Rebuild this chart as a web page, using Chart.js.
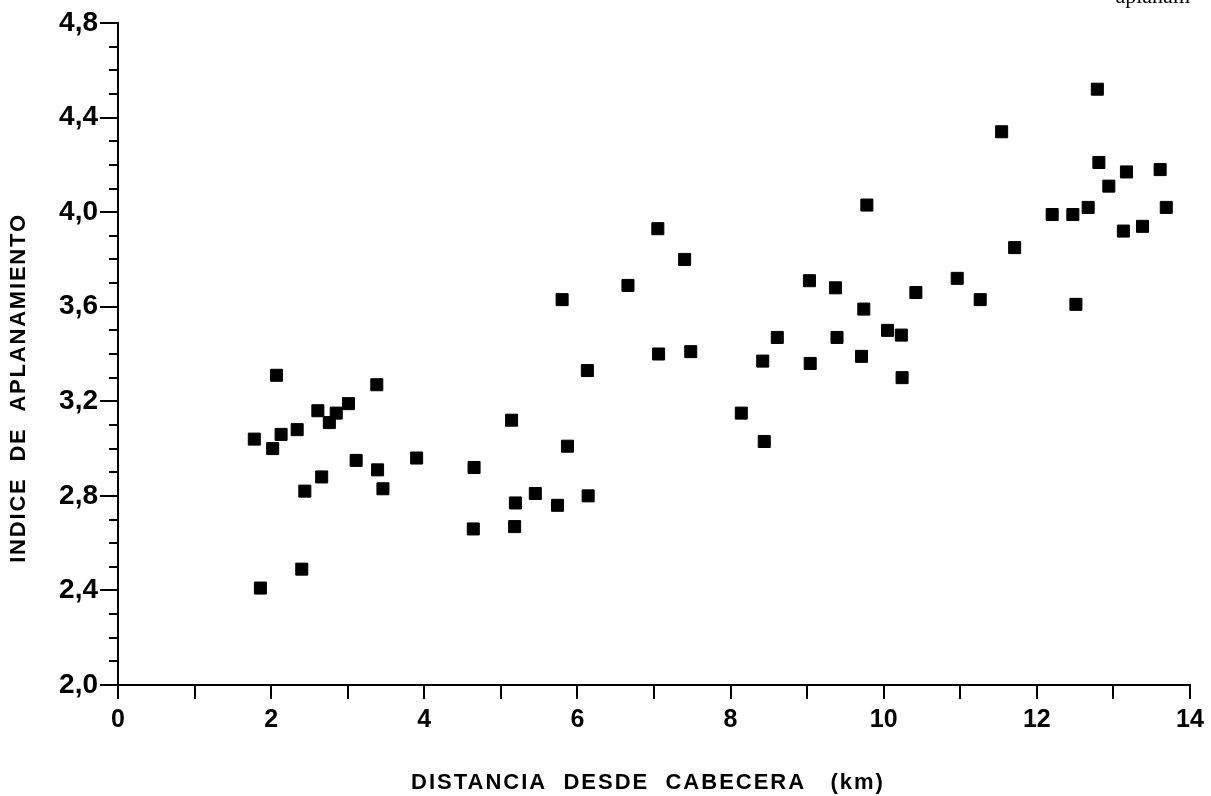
<!DOCTYPE html>
<html>
<head>
<meta charset="utf-8">
<script src="https://cdn.jsdelivr.net/npm/chart.js@4.4.1/dist/chart.umd.min.js"></script>
<style>
  html, body { margin: 0; padding: 0; background: #fff; }
  #wrap { width: 1211px; height: 796px; position: relative; }
</style>
</head>
<body id="body">
<div id="wrap"><canvas id="myChart"></canvas></div>
<script>
// distance from head (km) and flattening index
let distancia = [1.78, 1.86, 2.02, 2.07, 2.13, 2.34, 2.40, 2.44, 2.61, 2.66, 2.76, 2.85, 3.01, 3.11, 3.38, 3.39, 3.46, 3.90,
    4.64, 4.65, 5.14, 5.18, 5.19, 5.45, 5.74, 5.80, 5.87, 6.13, 6.14, 6.66, 7.05, 7.06, 7.40, 7.48,
    8.14, 8.42, 8.44, 8.61, 9.03, 9.04, 9.37, 9.39, 9.71, 9.74, 9.78, 10.05, 10.23, 10.24, 10.42,
    10.96, 11.26, 11.54, 11.71, 12.20, 12.47, 12.51, 12.67, 12.79, 12.81, 12.94, 13.13, 13.17, 13.38, 13.61, 13.69];
let indice = [3.04, 2.41, 3.00, 3.31, 3.06, 3.08, 2.49, 2.82, 3.16, 2.88, 3.11, 3.15, 3.19, 2.95, 3.27, 2.91, 2.83, 2.96,
    2.66, 2.92, 3.12, 2.67, 2.77, 2.81, 2.76, 3.63, 3.01, 3.33, 2.80, 3.69, 3.93, 3.40, 3.80, 3.41,
    3.15, 3.37, 3.03, 3.47, 3.71, 3.36, 3.68, 3.47, 3.39, 3.59, 4.03, 3.50, 3.48, 3.30, 3.66,
    3.72, 3.63, 4.34, 3.85, 3.99, 3.99, 3.61, 4.02, 4.52, 4.21, 4.11, 3.92, 4.17, 3.94, 4.18, 4.02];

let xRange = [0, 14];
let yRange = [2.0, 4.8];
let xLabelTicks = [0, 2, 4, 6, 8, 10, 12, 14];
let yLabelTicks = [2.0, 2.4, 2.8, 3.2, 3.6, 4.0, 4.4, 4.8];
let xTitle = 'DISTANCIA  DESDE  CABECERA   (km)';
let yTitle = 'INDICE  DE  APLANAMIENTO';

let puntos = distancia.map((d, i) => ({ x: d, y: indice[i] }));

function isYLabel(v) {
    return yLabelTicks.some(t => Math.abs(t - v) < 1e-6);
}

// short ticks between the labelled ones, plus the spaced-out axis titles
const extras = {
    id: 'extras',
    afterDraw(chart) {
        let ctx = chart.ctx;
        let yScale = chart.scales.y;
        let area = chart.chartArea;
        ctx.save();
        ctx.strokeStyle = '#000';
        ctx.lineWidth = 2;
        yScale.ticks.forEach(t => {
            if (isYLabel(t.value)) return;
            let py = Math.round(yScale.getPixelForValue(t.value));
            ctx.beginPath();
            ctx.moveTo(yScale.right - 9, py);
            ctx.lineTo(yScale.right, py);
            ctx.stroke();
        });

        ctx.fillStyle = '#000';
        ctx.textAlign = 'center';
        ctx.textBaseline = 'middle';
        ctx.font = 'bold 22px "Liberation Sans", Arial, sans-serif';
        ctx.letterSpacing = '2px';
        ctx.fillText(xTitle, (area.left + area.right) / 2 - 6, 783);

        ctx.save();
        ctx.translate(19, 388);
        ctx.rotate(-Math.PI / 2);
        ctx.letterSpacing = '1.8px';
        ctx.fillText(yTitle, 0, 0);
        ctx.restore();

        // cut-off caption at the top of the scanned page
        ctx.letterSpacing = '0px';
        ctx.font = '22px "Liberation Serif", serif';
        ctx.textAlign = 'right';
        ctx.textBaseline = 'alphabetic';
        ctx.fillText('aplanam', 1190, 3);
        ctx.restore();
    }
};

let myChart = document.querySelector('#myChart');
myChart.getContext('2d');
let grafico = new Chart(myChart, {
    type: 'scatter',
    data: {
        datasets: [{
            label: 'Indice de aplanamiento',
            data: puntos,
            pointStyle: 'rect',
            pointRadius: 8.5,
            pointBorderWidth: 1,
            backgroundColor: '#000',
            borderColor: '#000'
        }]
    },
    options: {
        responsive: true,
        maintainAspectRatio: false,
        animation: false,
        layout: { padding: { top: 23, right: 21, left: 0, bottom: 0 } },
        plugins: {
            legend: { display: false },
            tooltip: { enabled: false }
        },
        scales: {
            x: {
                type: 'linear',
                min: xRange[0],
                max: xRange[1],
                afterFit(scale) { scale.height = 111; },
                border: { display: true, color: '#000', width: 2 },
                grid: { drawOnChartArea: false, drawTicks: true, tickLength: 14, color: '#000', lineWidth: 2 },
                ticks: {
                    stepSize: 1,
                    autoSkip: false,
                    maxRotation: 0,
                    padding: 6,
                    color: '#000',
                    font: { family: '"Liberation Sans", Arial, sans-serif', size: 25, weight: 'bold' },
                    callback: v => xLabelTicks.includes(v) ? String(v) : ''
                },
                title: { display: false }
            },
            y: {
                type: 'linear',
                min: yRange[0],
                max: yRange[1],
                afterFit(scale) { scale.width = 118; },
                border: { display: true, color: '#000', width: 2 },
                grid: {
                    drawOnChartArea: false,
                    drawTicks: true,
                    tickLength: 18,
                    lineWidth: 2,
                    color: c => (c.tick && isYLabel(c.tick.value)) ? '#000' : 'rgba(0,0,0,0)'
                },
                ticks: {
                    stepSize: 0.1,
                    autoSkip: false,
                    padding: 2,
                    color: '#000',
                    font: { family: '"Liberation Sans", Arial, sans-serif', size: 28, weight: 'bold' },
                    callback: v => isYLabel(v) ? v.toFixed(1).replace('.', ',') : ''
                },
                title: { display: false }
            }
        }
    },
    plugins: [extras]
});
</script>
</body>
</html>
